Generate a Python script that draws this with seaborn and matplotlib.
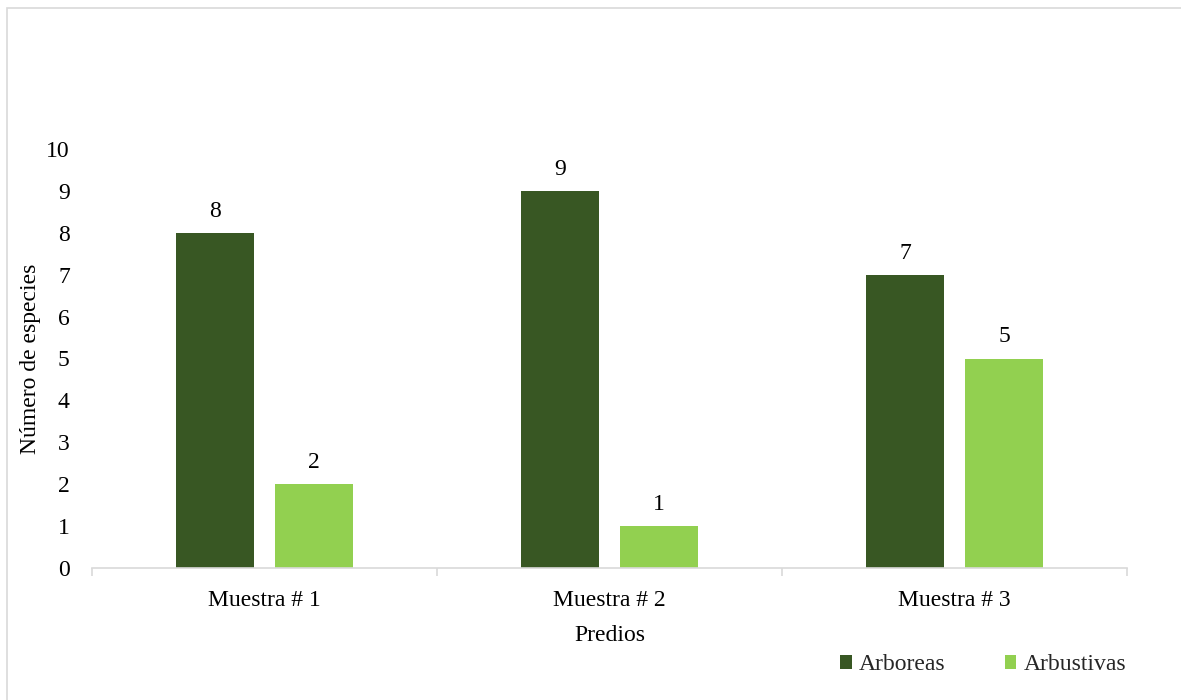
import matplotlib
matplotlib.use("Agg")
import matplotlib.pyplot as plt
import seaborn as sns
import pandas as pd
from matplotlib.patches import Rectangle, Patch

categories = ["Muestra # 1", "Muestra # 2", "Muestra # 3"]
series_names = ["Arboreas", "Arbustivas"]
arboreas = [8, 9, 7]
arbustivas = [2, 1, 5]
y_ticks = [0, 1, 2, 3, 4, 5, 6, 7, 8, 9, 10]

colors = ["#385723", "#92D050"]

df = pd.DataFrame({
    "Predios": categories * 2,
    "n": arboreas + arbustivas,
    "Tipo": [series_names[0]] * 3 + [series_names[1]] * 3,
})

sns.set_theme(style="white")
plt.rcParams["font.family"] = ["Liberation Serif", "DejaVu Serif"]
FS = 17

fig = plt.figure(figsize=(11.81, 7.0), dpi=100)
ax = fig.add_axes([92 / 1181, 1 - 568 / 700, 1035 / 1181, 419 / 700])

sns.barplot(data=df, x="Predios", y="n", hue="Tipo", palette=colors,
            width=0.574, gap=0.222, ax=ax, legend=False, saturation=1,
            linewidth=0, edgecolor="none")

for cont in ax.containers:
    ax.bar_label(cont, labels=[f"{int(v)}" for v in cont.datavalues],
                 padding=8, fontsize=FS, color="black")

ax.set_xlim(-0.5, 2.5)
ax.set_ylim(0, 10)
ax.set_yticks(y_ticks)
ax.set_yticklabels([str(t) for t in y_ticks], fontsize=FS, color="black")
ax.set_xticks(range(len(categories)))
ax.set_xticklabels(categories, fontsize=FS, color="black")
ax.set_xticks([-0.5, 0.5, 1.5, 2.5], minor=True)
ax.tick_params(axis="x", which="major", length=0, pad=15.5)
ax.tick_params(axis="x", which="minor", length=6, width=1.2, color="#d9d9d9", direction="out", bottom=True)
ax.tick_params(axis="y", length=0, pad=16)

for s in ["top", "right", "left"]:
    ax.spines[s].set_visible(False)
ax.spines["bottom"].set_color("#d9d9d9")
ax.spines["bottom"].set_linewidth(1.2)
ax.grid(False)

ax.set_xlabel("Predios", fontsize=FS, color="black")
ax.xaxis.set_label_coords(0.5, -0.135)
ax.set_ylabel("Número de especies", fontsize=FS, color="black")
ax.yaxis.set_label_coords(-0.049, 0.5)

handles = [Patch(facecolor=c, edgecolor="none") for c in colors]
fig.legend(handles, series_names, loc="center", bbox_to_anchor=(983 / 1181, 1 - 665 / 700),
           ncol=2, frameon=False, fontsize=FS, handlelength=0.5, handleheight=0.5,
           handletextpad=0.3, columnspacing=2.5)

fig.patches.append(Rectangle((7 / 1181, -0.05), 1.2, 1 - 8 / 700 + 0.05,
                             transform=fig.transFigure, fill=False,
                             edgecolor="#d9d9d9", linewidth=1.2))

fig.savefig("out.png", dpi=100)
